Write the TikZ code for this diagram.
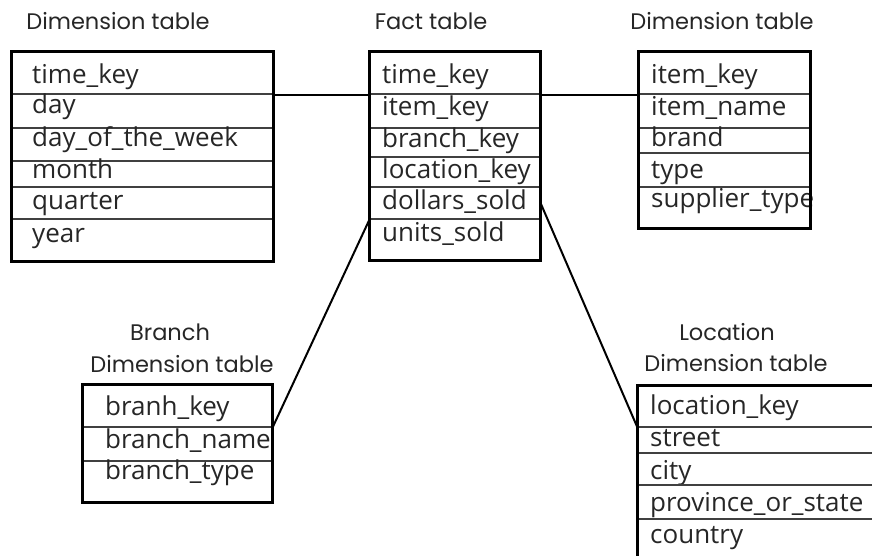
\documentclass[tikz,border=0pt]{standalone}
\usepackage{fontspec}
\setmainfont{Open Sans}
\newfontfamily\headfont{Poppins}
\usetikzlibrary{fit}

% one table row: name, x1, y1, x2, y2, text x, text baseline, text
\newcommand\dbcell[8]{%
  \node[cell, fit={(#2,#3)(#4,#5)}] (#1) {};
  \node[celltext] (#1-t) at (#6,#7) {#8};}

\begin{document}
\begin{tikzpicture}[x=1pt,y=-1pt,
  cell/.style={draw=black!75, line width=1.1pt, inner sep=0pt},
  tablebox/.style={draw=black, line width=2.6pt, inner sep=0pt},
  celltext/.style={anchor=base west, inner sep=0pt, text=black!85,
    font=\fontsize{26}{30}\selectfont},
  heading/.style={anchor=base, inner sep=0pt, text=black!85,
    font=\headfont\fontsize{22.5}{27}\selectfont},
  link/.style={draw=black, line width=2pt}]
\useasboundingbox (0,0) rectangle (872,555);
\clip (0,0) rectangle (872,555);

% time dimension
\node[heading] (Lh) at (118,29) {Dimension table};
\dbcell{L1}{12}{52}{273}{94}{32}{83}{time\_key}
\dbcell{L2}{12}{94}{273}{128}{32}{113}{day}
\dbcell{L3}{12}{128}{273}{161}{32}{146}{day\_of\_the\_week}
\dbcell{L4}{12}{161}{273}{187}{32}{178}{month}
\dbcell{L5}{12}{187}{273}{219}{32}{209}{quarter}
\dbcell{L6}{12}{219}{273}{261}{32}{242}{year}
\node[tablebox, fit=(L1)(L6)] (L) {};

% fact table
\node[heading] (Fh) at (431,29) {Fact table};
\dbcell{F1}{370}{52}{540}{94}{382}{83}{time\_key}
\dbcell{F2}{370}{94}{540}{128}{382}{115}{item\_key}
\dbcell{F3}{370}{128}{540}{157}{382}{147}{branch\_key}
\dbcell{F4}{370}{157}{540}{187}{382}{178}{location\_key}
\dbcell{F5}{370}{187}{540}{219}{382}{209}{dollars\_sold}
\dbcell{F6}{370}{219}{540}{260}{382}{241}{units\_sold}
\node[tablebox, fit=(F1)(F6)] (F) {};

% item dimension
\node[heading] (Rh) at (722,29) {Dimension table};
\dbcell{R1}{639}{52}{810}{94}{651}{83}{item\_key}
\dbcell{R2}{639}{94}{810}{128}{651}{115}{item\_name}
\dbcell{R3}{639}{128}{810}{153}{651}{146}{brand}
\dbcell{R4}{639}{153}{810}{187}{651}{178}{type}
\dbcell{R5}{639}{187}{810}{228}{651}{207}{supplier\_type}
\node[tablebox, fit=(R1)(R5)] (R) {};

% branch dimension
\node[heading] (Bh1) at (170,340) {Branch};
\node[heading] (Bh2) at (182,372) {Dimension table};
\dbcell{B1}{83}{385}{272}{427}{105}{415}{branh\_key}
\dbcell{B2}{83}{427}{272}{461}{105}{448}{branch\_name}
\dbcell{B3}{83}{461}{272}{502}{105}{479}{branch\_type}
\node[tablebox, fit=(B1)(B3)] (B) {};

% location dimension
\node[heading] (Gh1) at (727,340) {Location};
\node[heading] (Gh2) at (736,371) {Dimension table};
\dbcell{G1}{638}{386}{885}{427}{650}{414}{location\_key}
\dbcell{G2}{638}{427}{885}{453}{650}{446}{street}
\dbcell{G3}{638}{453}{885}{485}{650}{479}{city}
\dbcell{G4}{638}{485}{885}{519}{650}{511}{province\_or\_state}
\dbcell{G5}{638}{519}{885}{575}{650}{543}{country}
\node[tablebox, fit=(G1)(G5)] (G) {};

% connectors
\draw[link] (L1.south east) -- (F1.south west);
\draw[link] (F1.south east) -- (R1.south west);
\draw[link] (B1.south east) -- (F5.south west);
\draw[link] (F5.east) -- (G1.south west);
\end{tikzpicture}
\end{document}
